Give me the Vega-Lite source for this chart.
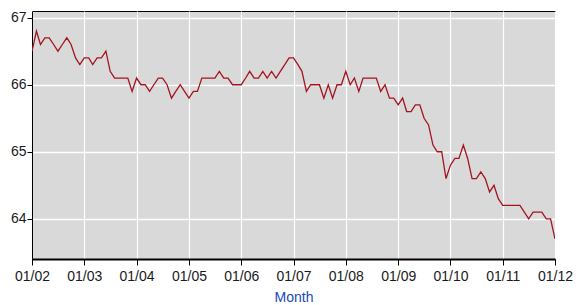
{
  "$schema": "https://vega.github.io/schema/vega-lite/v6.json",
  "width": 523,
  "height": 248,
  "autosize": "none",
  "padding": {"left": 32, "top": 11, "right": 25, "bottom": 46},
  "background": "white",
  "config": {
    "view": {"fill": "#d9d9d9", "stroke": "#000000", "strokeWidth": 1},
    "font": "Liberation Sans",
    "axis": {
      "gridColor": "#ffffff",
      "gridWidth": 1.2,
      "gridOpacity": 1,
      "domainColor": "#000000",
      "tickColor": "#000000",
      "tickSize": 5,
      "labelColor": "#1a1a1a",
      "labelFontSize": 14,
      "labelFont": "Liberation Sans"
    }
  },
  "data": {
    "values": [
      {"date": "2002-01-01", "v": 66.5}, {"date": "2002-02-01", "v": 66.8}, {"date": "2002-03-01", "v": 66.6}, {"date": "2002-04-01", "v": 66.7},
      {"date": "2002-05-01", "v": 66.7}, {"date": "2002-06-01", "v": 66.6}, {"date": "2002-07-01", "v": 66.5}, {"date": "2002-08-01", "v": 66.6},
      {"date": "2002-09-01", "v": 66.7}, {"date": "2002-10-01", "v": 66.6}, {"date": "2002-11-01", "v": 66.4}, {"date": "2002-12-01", "v": 66.3},
      {"date": "2003-01-01", "v": 66.4}, {"date": "2003-02-01", "v": 66.4}, {"date": "2003-03-01", "v": 66.3}, {"date": "2003-04-01", "v": 66.4},
      {"date": "2003-05-01", "v": 66.4}, {"date": "2003-06-01", "v": 66.5}, {"date": "2003-07-01", "v": 66.2}, {"date": "2003-08-01", "v": 66.1},
      {"date": "2003-09-01", "v": 66.1}, {"date": "2003-10-01", "v": 66.1}, {"date": "2003-11-01", "v": 66.1}, {"date": "2003-12-01", "v": 65.9},
      {"date": "2004-01-01", "v": 66.1}, {"date": "2004-02-01", "v": 66.0}, {"date": "2004-03-01", "v": 66.0}, {"date": "2004-04-01", "v": 65.9},
      {"date": "2004-05-01", "v": 66.0}, {"date": "2004-06-01", "v": 66.1}, {"date": "2004-07-01", "v": 66.1}, {"date": "2004-08-01", "v": 66.0},
      {"date": "2004-09-01", "v": 65.8}, {"date": "2004-10-01", "v": 65.9}, {"date": "2004-11-01", "v": 66.0}, {"date": "2004-12-01", "v": 65.9},
      {"date": "2005-01-01", "v": 65.8}, {"date": "2005-02-01", "v": 65.9}, {"date": "2005-03-01", "v": 65.9}, {"date": "2005-04-01", "v": 66.1},
      {"date": "2005-05-01", "v": 66.1}, {"date": "2005-06-01", "v": 66.1}, {"date": "2005-07-01", "v": 66.1}, {"date": "2005-08-01", "v": 66.2},
      {"date": "2005-09-01", "v": 66.1}, {"date": "2005-10-01", "v": 66.1}, {"date": "2005-11-01", "v": 66.0}, {"date": "2005-12-01", "v": 66.0},
      {"date": "2006-01-01", "v": 66.0}, {"date": "2006-02-01", "v": 66.1}, {"date": "2006-03-01", "v": 66.2}, {"date": "2006-04-01", "v": 66.1},
      {"date": "2006-05-01", "v": 66.1}, {"date": "2006-06-01", "v": 66.2}, {"date": "2006-07-01", "v": 66.1}, {"date": "2006-08-01", "v": 66.2},
      {"date": "2006-09-01", "v": 66.1}, {"date": "2006-10-01", "v": 66.2}, {"date": "2006-11-01", "v": 66.3}, {"date": "2006-12-01", "v": 66.4},
      {"date": "2007-01-01", "v": 66.4}, {"date": "2007-02-01", "v": 66.3}, {"date": "2007-03-01", "v": 66.2}, {"date": "2007-04-01", "v": 65.9},
      {"date": "2007-05-01", "v": 66.0}, {"date": "2007-06-01", "v": 66.0}, {"date": "2007-07-01", "v": 66.0}, {"date": "2007-08-01", "v": 65.8},
      {"date": "2007-09-01", "v": 66.0}, {"date": "2007-10-01", "v": 65.8}, {"date": "2007-11-01", "v": 66.0}, {"date": "2007-12-01", "v": 66.0},
      {"date": "2008-01-01", "v": 66.2}, {"date": "2008-02-01", "v": 66.0}, {"date": "2008-03-01", "v": 66.1}, {"date": "2008-04-01", "v": 65.9},
      {"date": "2008-05-01", "v": 66.1}, {"date": "2008-06-01", "v": 66.1}, {"date": "2008-07-01", "v": 66.1}, {"date": "2008-08-01", "v": 66.1},
      {"date": "2008-09-01", "v": 65.9}, {"date": "2008-10-01", "v": 66.0}, {"date": "2008-11-01", "v": 65.8}, {"date": "2008-12-01", "v": 65.8},
      {"date": "2009-01-01", "v": 65.7}, {"date": "2009-02-01", "v": 65.8}, {"date": "2009-03-01", "v": 65.6}, {"date": "2009-04-01", "v": 65.6},
      {"date": "2009-05-01", "v": 65.7}, {"date": "2009-06-01", "v": 65.7}, {"date": "2009-07-01", "v": 65.5}, {"date": "2009-08-01", "v": 65.4},
      {"date": "2009-09-01", "v": 65.1}, {"date": "2009-10-01", "v": 65.0}, {"date": "2009-11-01", "v": 65.0}, {"date": "2009-12-01", "v": 64.6},
      {"date": "2010-01-01", "v": 64.8}, {"date": "2010-02-01", "v": 64.9}, {"date": "2010-03-01", "v": 64.9}, {"date": "2010-04-01", "v": 65.1},
      {"date": "2010-05-01", "v": 64.9}, {"date": "2010-06-01", "v": 64.6}, {"date": "2010-07-01", "v": 64.6}, {"date": "2010-08-01", "v": 64.7},
      {"date": "2010-09-01", "v": 64.6}, {"date": "2010-10-01", "v": 64.4}, {"date": "2010-11-01", "v": 64.5}, {"date": "2010-12-01", "v": 64.3},
      {"date": "2011-01-01", "v": 64.2}, {"date": "2011-02-01", "v": 64.2}, {"date": "2011-03-01", "v": 64.2}, {"date": "2011-04-01", "v": 64.2},
      {"date": "2011-05-01", "v": 64.2}, {"date": "2011-06-01", "v": 64.1}, {"date": "2011-07-01", "v": 64.0}, {"date": "2011-08-01", "v": 64.1},
      {"date": "2011-09-01", "v": 64.1}, {"date": "2011-10-01", "v": 64.1}, {"date": "2011-11-01", "v": 64.0}, {"date": "2011-12-01", "v": 64.0},
      {"date": "2012-01-01", "v": 63.7}
    ]
  },
  "mark": {"type": "line", "color": "#a3141f", "strokeWidth": 1.3, "clip": true},
  "encoding": {
    "x": {
      "field": "date",
      "type": "temporal",
      "scale": {
        "type": "utc",
        "domain": [
          {"year": 2002, "month": 1, "date": 1, "utc": true},
          {"year": 2012, "month": 1, "date": 1, "utc": true}
        ]
      },
      "axis": {
        "title": "Month",
        "titleColor": "#2049b5",
        "titleFontSize": 14,
        "titleFontWeight": "normal",
        "titleFont": "Liberation Sans",
        "titlePadding": 7,
        "labelExpr": "utcFormat(datum.value, '%m/%y')",
        "domainWidth": 2,
        "tickSize": 6,
        "labelPadding": 4,
        "labelFlush": false,
        "values": [
          {"year": 2002, "month": 1, "date": 1, "utc": true},
          {"year": 2003, "month": 1, "date": 1, "utc": true},
          {"year": 2004, "month": 1, "date": 1, "utc": true},
          {"year": 2005, "month": 1, "date": 1, "utc": true},
          {"year": 2006, "month": 1, "date": 1, "utc": true},
          {"year": 2007, "month": 1, "date": 1, "utc": true},
          {"year": 2008, "month": 1, "date": 1, "utc": true},
          {"year": 2009, "month": 1, "date": 1, "utc": true},
          {"year": 2010, "month": 1, "date": 1, "utc": true},
          {"year": 2011, "month": 1, "date": 1, "utc": true},
          {"year": 2012, "month": 1, "date": 1, "utc": true}
        ]
      }
    },
    "y": {
      "field": "v",
      "type": "quantitative",
      "scale": {"domain": [63.4, 67.1], "nice": false, "zero": false},
      "axis": {
        "title": null,
        "values": [64, 65, 66, 67],
        "format": "d",
        "labelPadding": 1,
        "gridWidth": 1.5
      }
    }
  }
}
